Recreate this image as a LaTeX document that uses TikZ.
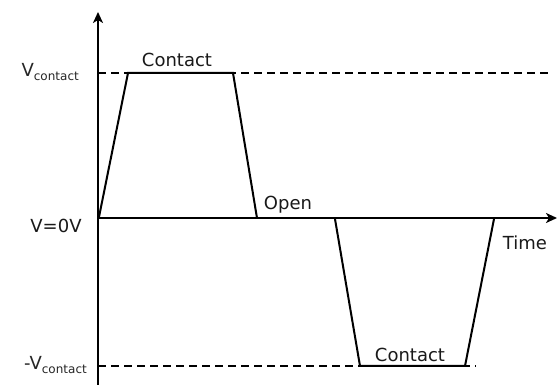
\documentclass[tikz,border=0pt]{standalone}
\usepackage{fontspec}
\setmainfont{DejaVu Sans}
\usetikzlibrary{arrows.meta}
\tikzset{
  lbl/.style={inner sep=0pt, anchor=base, font=\fontsize{18}{20}\selectfont, text=black!90},
  vlbl/.style={inner sep=0pt, anchor=base east, font=\fontsize{18}{20}\selectfont, text=black!85},
  axis/.style={line width=2.6pt, -{Stealth[length=11pt,width=10pt,inset=3pt]}},
  wave/.style={line width=2pt, line join=miter},
  ref/.style={line width=1.8pt, dash pattern=on 8pt off 5pt}
}
\newcommand{\subtxt}[1]{\raisebox{-3.5pt}{\fontsize{12}{13}\selectfont #1}}
\begin{document}
\begin{tikzpicture}[x=1pt,y=-1pt]
\useasboundingbox (0,0) rectangle (558,385);
% key coordinates
\coordinate (o) at (98,218);
\coordinate (ybot) at (98,385);
\coordinate (ytop) at (98,12);
\coordinate (xend) at (557,218);
\coordinate (vcL) at (98,73);
\coordinate (vcR) at (550,73);
\coordinate (nvL) at (98,366);
\coordinate (nvR) at (476,366);
\coordinate (a0) at (99,217);
\coordinate (a1) at (128,73);
\coordinate (a2) at (233,73);
\coordinate (a3) at (257,218);
\coordinate (b0) at (335,219);
\coordinate (b1) at (360,366);
\coordinate (b2) at (465,366);
\coordinate (b3) at (494,219);
% reference levels
\draw[ref] (vcL) -- (vcR);
\draw[ref] (nvL) -- (nvR);
% waveform
\draw[wave] (a0) -- (a1) -- (a2) -- (a3);
\draw[wave] (b0) -- (b1) -- (b2) -- (b3);
% axes
\draw[axis] (ybot) -- (ytop);
\draw[axis] (o) -- (xend);
% labels
\node[lbl] (c1) at (177,67) {Contact};
\node[lbl] (c2) at (410,362) {Contact};
\node[lbl] (op) at (288,210) {Open};
\node[lbl] (tm) at (525,250) {Time};
\node[lbl] (v0) at (56,233) {V=0V};
\node[vlbl] (vc) at (79,77) {V\subtxt{contact}};
\node[vlbl] (nvc) at (87,370) {-V\subtxt{contact}};
\end{tikzpicture}
\end{document}
